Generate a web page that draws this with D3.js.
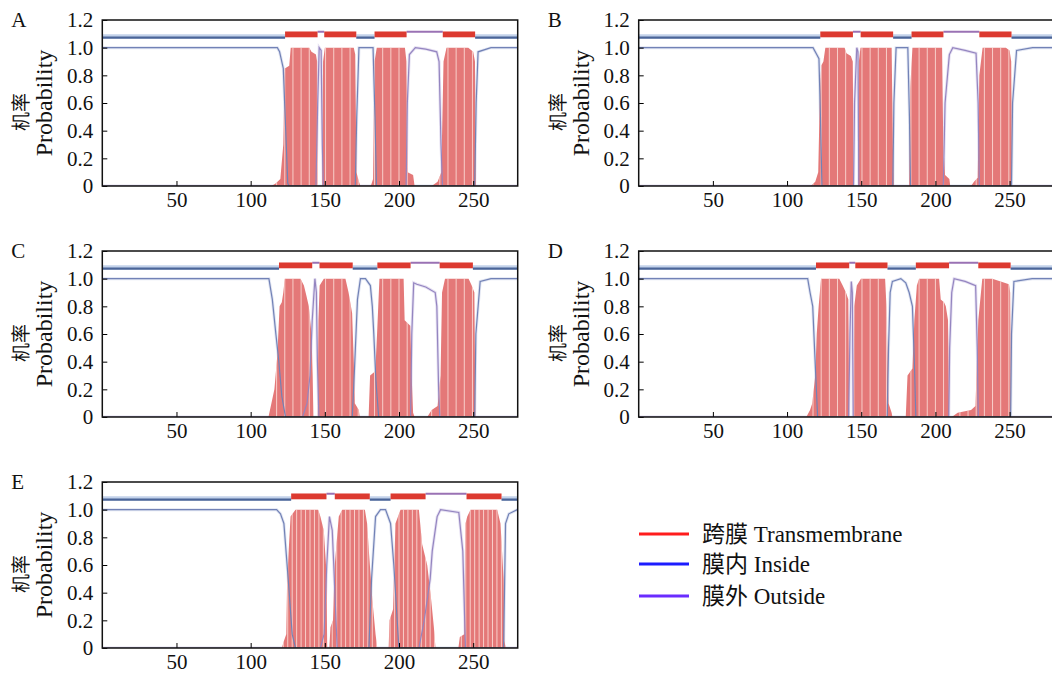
<!DOCTYPE html>
<html lang="en">
  <head>
    <meta charset="UTF-8" />
    <title>TMHMM posterior probabilities</title>
    <script src="https://d3js.org/d3.v7.min.js"></script>
    <style>
      body { margin: 0; background: #fff; }
      svg text { font-family: "Liberation Serif", "Times New Roman", "Noto Sans CJK SC", serif; fill: #111; }
    </style>
  </head>
  <body>
    <svg width="1052" height="676"></svg>

    <script>
      // x ticks / y ticks
      var xTicks = [50, 100, 150, 200, 250];
      var yTicks = [0, 0.2, 0.4, 0.6, 0.8, 1.0, 1.2];
      var seqLength = 280;

      // topology bar along the top: [type, start, end]
      var topoA = [["in", 0, 123.2], ["tm", 123.2, 145.1], ["out", 145.1, 149.6], ["tm", 149.6, 171.2], ["in", 171.2, 183.5], ["tm", 183.5, 205.1], ["out", 205.1, 229.5], ["tm", 229.5, 251.3], ["in", 251.3, 280]];
      var topoB = [["in", 0, 122.4], ["tm", 122.4, 144.4], ["out", 144.4, 149.6], ["tm", 149.6, 171.5], ["in", 171.5, 183.9], ["tm", 183.9, 205.4], ["out", 205.4, 229.6], ["tm", 229.6, 251.3], ["in", 251.3, 280]];
      var topoC = [["in", 0, 119.1], ["tm", 119.1, 141.5], ["out", 141.5, 146.4], ["tm", 146.4, 168.8], ["in", 168.8, 185.4], ["tm", 185.4, 207.8], ["out", 207.8, 227.4], ["tm", 227.4, 249.8], ["in", 249.8, 280]];
      var topoD = [["in", 0, 119.5], ["tm", 119.5, 141.9], ["out", 141.9, 146], ["tm", 146, 167.7], ["in", 167.7, 186.8], ["tm", 186.8, 209.2], ["out", 209.2, 228.9], ["tm", 228.9, 250.7], ["in", 250.7, 280]];
      var topoE = [["in", 0, 127.3], ["tm", 127.3, 151.1], ["out", 151.1, 156.7], ["tm", 156.7, 180.3], ["in", 180.3, 194.3], ["tm", 194.3, 217.9], ["out", 217.9, 245.5], ["tm", 245.5, 269.1], ["in", 269.1, 280]];

      // transmembrane probability, [residue, prob]
      var tmA = [[0, 0], [114, 0], [117, 0.02], [120, 0.05], [122, 0.3], [123, 0.85], [126, 0.87], [127, 1], [139.5, 1], [141, 0.97], [144, 0.95], [144.8, 0.9], [145.3, 0], [148.2, 0], [148.8, 0.9], [150, 1], [169.5, 1], [170.5, 0.95], [171.3, 0.1], [173, 0.03], [174, 0], [181, 0], [182.5, 0.05], [183.5, 0.9], [185, 1], [204, 1], [205, 0.9], [205.8, 0.1], [209.5, 0.08], [210.5, 0], [222, 0], [226, 0.03], [228.5, 0.1], [230, 0.9], [232, 1], [246.7, 1], [250, 0.97], [251.2, 0.9], [251.8, 0], [280, 0]];
      var tmB = [[0, 0], [116, 0], [119, 0.03], [121, 0.1], [122, 0.6], [123, 0.87], [124.5, 0.9], [125.8, 1], [138.8, 1], [140, 0.96], [143, 0.94], [144.3, 0.9], [144.9, 0], [147.8, 0], [148.4, 0.9], [149.5, 1], [170.5, 1], [171.3, 0.3], [172, 0], [182.3, 0], [183, 0.7], [184.5, 1], [204.5, 1], [205.3, 0.3], [206.5, 0.08], [209.4, 0.05], [210, 0], [224, 0], [226, 0.03], [228.5, 0.06], [229.6, 0.8], [231.8, 1], [247.5, 1], [250, 0.98], [251.1, 0.9], [251.6, 0], [280, 0]];
      var tmC = [[0, 0], [112, 0], [114, 0.1], [116, 0.2], [118, 0.45], [119.5, 0.8], [121, 0.83], [122, 0.9], [123, 1], [133.6, 1], [135.9, 0.95], [137.5, 0.88], [139.2, 0.8], [141, 0.6], [141.8, 0.3], [142.3, 0], [145.2, 0], [145.7, 0.7], [146.5, 0.95], [149.3, 1], [163.9, 1], [166, 0.9], [168.4, 0.75], [169.5, 0.4], [170.2, 0.1], [172.9, 0.05], [173.5, 0], [179.5, 0], [180.5, 0.3], [184, 0.33], [185.2, 0.6], [186.8, 1], [203.1, 1], [203.8, 0.7], [207.6, 0.66], [208.5, 0.3], [209.5, 0.03], [210.5, 0], [219, 0], [222, 0.05], [226, 0.08], [228, 0.3], [229, 0.9], [231, 1], [246.9, 1], [249, 0.95], [250.8, 0.9], [251.5, 0], [280, 0]];
      var tmD = [[0, 0], [113, 0], [115.5, 0.05], [117, 0.1], [119, 0.3], [120, 0.6], [121.3, 0.8], [122.9, 1], [135.2, 1], [137.5, 0.95], [139.7, 0.9], [141.3, 0.85], [141.9, 0], [144.8, 0], [145.3, 0.8], [147, 0.95], [149.8, 1], [166.1, 1], [167, 0.8], [168.4, 0.1], [170.5, 0.03], [171, 0], [180, 0], [181.2, 0.3], [184.5, 0.35], [185.8, 0.7], [187.5, 0.95], [189, 1], [202.5, 1], [203.6, 0.85], [205.8, 0.83], [207, 0.8], [208.5, 0.7], [209.2, 0], [211, 0], [215, 0.03], [224, 0.05], [227, 0.08], [228.9, 0.7], [231.6, 1], [238.3, 1], [244, 0.98], [249.6, 0.96], [250.4, 0.9], [250.9, 0], [280, 0]];
      var tmE = [[0, 0], [121, 0], [122.4, 0.05], [124, 0.1], [124.6, 0.5], [126.9, 0.95], [130.2, 1], [145.5, 1], [147, 0.95], [149.3, 0.85], [151.1, 0.55], [151.6, 0], [153, 0], [153.8, 0.15], [155.5, 0.2], [156.7, 0.6], [159.4, 0.95], [161.7, 1], [177, 1], [178.5, 0.9], [179.7, 0.7], [182, 0.35], [184.2, 0.1], [185.3, 0], [193, 0], [193.6, 0.2], [196, 0.28], [197.6, 0.9], [201, 1], [213.4, 1], [215.6, 0.75], [219, 0.6], [221.2, 0.4], [223.5, 0.15], [224.6, 0], [240, 0], [241, 0.08], [244, 0.1], [244.8, 0.9], [246, 0.95], [248.2, 1], [266.2, 1], [268.4, 0.9], [270.5, 0.5], [271, 0.05], [272, 0], [280, 0]];

      // inside probability
      var insideA = [[0, 1], [118, 1], [119.5, 0.97], [122, 0.85], [124, 0.3], [125, 0.02], [126, 0], [170.5, 0], [171.5, 0.5], [173, 1], [182.5, 1], [183.8, 0.5], [184.8, 0], [251, 0], [252, 0.6], [253.3, 0.97], [262, 1], [280, 1]];
      var insideB = [[0, 1], [117.5, 1], [120, 0.95], [121.5, 0.92], [122.5, 0.5], [123.5, 0], [171.3, 0], [172, 0.6], [173.5, 1], [181.4, 1], [182.5, 0.5], [183.2, 0], [251.3, 0], [252, 0.6], [254.7, 0.98], [265.5, 1], [280, 1]];
      var insideC = [[0, 1], [112.3, 1], [114.6, 0.85], [117, 0.6], [119, 0.4], [121, 0.15], [123.5, 0], [168.5, 0], [170, 0.35], [172, 0.85], [174, 1], [177.4, 1], [180.7, 0.95], [182, 0.8], [183, 0.6], [184.5, 0.25], [186.3, 0], [251, 0], [251.8, 0.6], [254.7, 0.98], [262, 1], [280, 1]];
      var insideD = [[0, 1], [113.9, 1], [115.5, 0.9], [117.3, 0.8], [118.5, 0.5], [120.6, 0], [167.5, 0], [168.4, 0.5], [169.5, 0.9], [171, 0.98], [176.7, 1], [180, 0.97], [182.3, 0.9], [184.5, 0.8], [185.8, 0.4], [186.8, 0], [250.7, 0], [251.3, 0.6], [252.9, 0.98], [265.2, 1], [280, 1]];
      var insideE = [[0, 1], [117.5, 1], [120.1, 0.97], [122.4, 0.9], [125.3, 0.5], [128, 0.1], [130.2, 0], [179.7, 0], [181.5, 0.5], [184.2, 0.95], [187.5, 1], [190.9, 1], [194.3, 0.9], [196.5, 0.6], [199.9, 0], [270.5, 0], [271.8, 0.9], [274, 0.97], [279.7, 1], [280, 1]];

      // outside probability
      var outsideA = [[0, 0], [144, 0], [145.2, 0.6], [146.2, 1], [147.5, 0.98], [148.3, 0.3], [149, 0], [204.8, 0], [205.6, 0.6], [207, 0.95], [211, 1], [218, 0.99], [225.4, 0.97], [227, 0.9], [228.3, 0.3], [229.3, 0], [280, 0]];
      var outsideB = [[0, 0], [144.8, 0], [145.5, 0.6], [147, 1], [147.8, 0.97], [148.4, 0], [205.3, 0], [206.5, 0.6], [209.4, 0.95], [211.7, 1], [220, 0.98], [227.4, 0.96], [228.8, 0.6], [229.6, 0], [280, 0]];
      var outsideC = [[0, 0], [135, 0], [138, 0.1], [140, 0.3], [141.5, 0.7], [143.3, 1], [144.3, 0.9], [145, 0.4], [146, 0], [207.8, 0], [208.6, 0.6], [209.9, 0.97], [212, 0.96], [218, 0.94], [224.4, 0.9], [225.5, 0.8], [226.7, 0.2], [227.5, 0], [280, 0]];
      var outsideD = [[0, 0], [141.5, 0], [142.4, 0.6], [143.3, 0.98], [144, 0.9], [144.6, 0], [209, 0], [209.6, 0.5], [211, 0.9], [212.6, 1], [220, 0.98], [227.1, 0.95], [228.2, 0.5], [228.9, 0], [280, 0]];
      var outsideE = [[0, 0], [147, 0], [149.5, 0.1], [151.3, 0.6], [153.1, 0.95], [155, 0.85], [156, 0.6], [158.3, 0], [213.4, 0], [217, 0.2], [221, 0.5], [222.4, 0.7], [225.7, 0.95], [228, 1], [240.3, 0.98], [243, 0.7], [244.8, 0], [280, 0]];

      var panelNames = ["A", "B", "C", "D", "E"];
      var legendLabels = ["跨膜 Transmembrane", "膜内 Inside", "膜外 Outside"];
      var legendColors = ["#ff1c1c", "#1c1cff", "#6a2cff"];

      var svg = d3.select("svg");

      // panel placement
      var W = 415.4, H = 166;
      var origins = [[102.3, 20], [638.7, 20], [102.3, 251], [638.7, 251], [102.3, 482]];
      var topos = [topoA, topoB, topoC, topoD, topoE];
      var tms = [tmA, tmB, tmC, tmD, tmE];
      var insides = [insideA, insideB, insideC, insideD, insideE];
      var outsides = [outsideA, outsideB, outsideC, outsideD, outsideE];
      var stripeStep = [5.5, 5.5, 5.5, 5.5, 3];

      var x = d3.scaleLinear().domain([0, seqLength]).range([0, W]);
      var y = d3.scaleLinear().domain([0, 1.2]).range([H, 0]);

      var area = d3.area()
        .x(function (d) { return x(d[0]); })
        .y0(y(0))
        .y1(function (d) { return y(d[1]); });
      var line = d3.line()
        .x(function (d) { return x(d[0]); })
        .y(function (d) { return y(d[1]); });

      panelNames.forEach(function (name, i) {
        var g = svg.append("g").attr("transform", "translate(" + origins[i][0] + "," + origins[i][1] + ")");

        g.append("clipPath").attr("id", "box" + i)
          .append("rect").attr("width", W).attr("height", H);
        g.append("clipPath").attr("id", "tm" + i)
          .append("path").attr("d", area(tms[i]));

        var plot = g.append("g").attr("clip-path", "url(#box" + i + ")");

        // inside / outside probability curves (soft halo first)
        plot.append("path").attr("d", line(outsides[i]))
          .attr("fill", "none").attr("stroke", "#e6e1f2").attr("stroke-width", 3);
        plot.append("path").attr("d", line(insides[i]))
          .attr("fill", "none").attr("stroke", "#e1e5f2").attr("stroke-width", 3);

        // transmembrane probability (filled)
        plot.append("path")
          .attr("d", area(tms[i]))
          .attr("fill", "#e47878");

        // light impulse stripes inside the filled area
        plot.append("g").attr("clip-path", "url(#tm" + i + ")")
          .selectAll("line")
          .data(d3.range(2, seqLength, stripeStep[i]))
          .enter()
          .append("line")
          .attr("x1", function (d) { return x(d); })
          .attr("x2", function (d) { return x(d); })
          .attr("y1", y(0))
          .attr("y2", y(1.01))
          .attr("stroke", "rgba(255,236,230,0.75)")
          .attr("stroke-width", 1);

        plot.append("path").attr("d", line(outsides[i]))
          .attr("fill", "none").attr("stroke", "#9485c0").attr("stroke-width", 1.2);
        plot.append("path").attr("d", line(insides[i]))
          .attr("fill", "none").attr("stroke", "#7282b6").attr("stroke-width", 1.2);

        // topology bar on top
        var topo = plot.append("g");
        var inSeg = topos[i].filter(function (d) { return d[0] === "in"; });
        var outSeg = topos[i].filter(function (d) { return d[0] === "out"; });
        var tmSeg = topos[i].filter(function (d) { return d[0] === "tm"; });

        topo.selectAll("line.inHalo").data(inSeg).enter().append("line")
          .attr("x1", function (d) { return x(d[1]); })
          .attr("x2", function (d) { return x(d[2]); })
          .attr("y1", y(1.082)).attr("y2", y(1.082))
          .attr("stroke", "#c3d2ea").attr("stroke-width", 4);
        topo.selectAll("line.in").data(inSeg).enter().append("line")
          .attr("x1", function (d) { return x(d[1]); })
          .attr("x2", function (d) { return x(d[2]); })
          .attr("y1", y(1.073)).attr("y2", y(1.073))
          .attr("stroke", "#4a6498").attr("stroke-width", 2.2);
        topo.selectAll("line.out").data(outSeg).enter().append("line")
          .attr("x1", function (d) { return x(d[1]); })
          .attr("x2", function (d) { return x(d[2]); })
          .attr("y1", y(1.115)).attr("y2", y(1.115))
          .attr("stroke", "#9a72b4").attr("stroke-width", 2);
        topo.selectAll("rect").data(tmSeg).enter().append("rect")
          .attr("x", function (d) { return x(d[1]); })
          .attr("width", function (d) { return x(d[2]) - x(d[1]); })
          .attr("y", y(1.117))
          .attr("height", y(1.075) - y(1.117))
          .attr("fill", "#dc3a30");

        // axes with inward ticks
        var yAxis = d3.axisLeft(y)
          .tickValues(yTicks)
          .tickFormat(function (d) { return d === 0 ? "0" : d3.format(".1f")(d); })
          .tickSizeInner(-5).tickSizeOuter(0).tickPadding(9);
        var ya = g.append("g").call(yAxis);
        ya.select(".domain").remove();
        ya.selectAll("text").style("font-size", "21px").attr("fill", "#111");

        var xAxis = d3.axisBottom(x)
          .tickValues(xTicks)
          .tickSizeInner(-5).tickSizeOuter(0).tickPadding(6);
        var xa = g.append("g").attr("transform", "translate(0," + H + ")").call(xAxis);
        xa.select(".domain").remove();
        xa.selectAll("text").style("font-size", "21px").attr("fill", "#111");

        g.append("rect")
          .attr("width", W).attr("height", H)
          .attr("fill", "none").attr("stroke", "#111").attr("stroke-width", 1.5);

        // panel letter and y title
        g.append("text").attr("x", -91).attr("y", 7)
          .style("font-size", "21px").text(name);
        g.append("text")
          .attr("transform", "translate(-50," + (H / 2) + ") rotate(-90)")
          .attr("text-anchor", "middle")
          .style("font-size", "24px")
          .text("Probability");
        g.append("text")
          .attr("transform", "translate(-74," + (H / 2 + 9) + ") rotate(-90)")
          .attr("text-anchor", "middle")
          .style("font-size", "19px")
          .text("机率");
      });

      // legend
      var legend = svg.append("g").attr("transform", "translate(639,534)");
      var rows = legend.selectAll("g").data(legendLabels).enter().append("g")
        .attr("transform", function (d, i) { return "translate(0," + [0, 30, 62][i] + ")"; });
      rows.append("line")
        .attr("x1", 0).attr("x2", 50)
        .attr("stroke", function (d, i) { return legendColors[i]; })
        .attr("stroke-width", 3);
      rows.append("text")
        .attr("x", 63).attr("y", 8)
        .style("font-size", "23px")
        .text(function (d) { return d; });
    </script>
  </body>
</html>
